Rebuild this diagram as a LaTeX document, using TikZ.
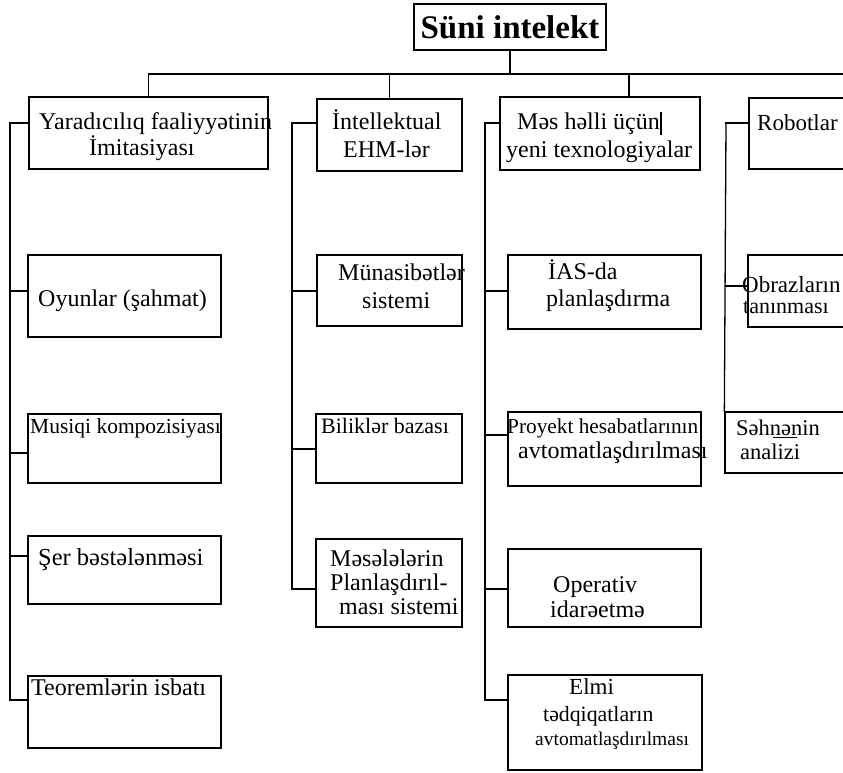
\documentclass[tikz,border=0pt]{standalone}
\usepackage{fontspec}
\setmainfont{Liberation Serif}
\begin{document}
\begin{tikzpicture}[x=1pt, y=-1pt,
    box/.style={draw, line width=1.8pt, inner sep=0pt},
    link/.style={line width=1.5pt, line cap=rect},
    lbl/.style={anchor=base west, inner sep=0pt}]
    \useasboundingbox (0,0) rectangle (843,772);
    \clip (0,0) rectangle (843,772);
    \node[box, minimum width=192, minimum height=46,
        font=\bfseries\fontsize{33}{34}\selectfont] (top) at (510,27) {Süni intelekt};
    \foreach \n/\xa/\ya/\xb/\yb in {yar/29/97/268/169, intel/317/99/462/171,
        mesh/500/97/700/170, rob/749/98/900/169, oyun/28/255/221/337,
        muna/317/255/462/326, ias/508/255/701/329, obr/748/255/900/327,
        mus/28/414/221/483, bil/316/414/462/483, proy/508/412/701/486,
        ser/28/536/221/604, mes/316/539/462/627, oper/508/549/701/627,
        teo/28/676/221/748, elmi/508/675/702/770} {
        \node[box, minimum width=\xb-\xa, minimum height=\yb-\ya] (\n)
            at ({(\xa+\xb)/2},{(\ya+\yb)/2}) {};
    }
    \node[box, line width=1.3pt, minimum width=175, minimum height=61] (seh) at (812.5,442.5) {};
    \foreach [count=\i] \x/\y/\fs/\txt in {39/129/24/Yaradıcılıq faaliyyətinin,
        89/155/24/İmitasiyası, 332/129/24/İntellektual, 343/157/24/EHM-lər,
        517/129/24/Məs həlli üçün, 506/157/24/yeni texnologiyalar,
        757/130/23/Robotlar, 38/306/24/Oyunlar (şahmat),
        338/280/24/Münasibətlər, 362/308/24/sistemi,
        548/279/24/İAS-da, 546/306/24/planlaşdırma,
        742/292/23/Obrazların, 743/313/22/tanınması,
        30/433/21.5/Musiqi kompozisiyası, 321/433/22/Biliklər bazası,
        507/433/21.3/Proyekt hesabatlarının, 518/458/24/avtomatlaşdırılması,
        736/435/22.5/Səhnənin, 740/459/22.5/analizi,
        38/565/24.5/Şer bəstələnməsi,
        330/566/24/Məsələlərin, 330/590/24/Planlaşdırıl-, 339/614/24/ması sistemi,
        553/592/24/Operativ, 550/617/24/idarəetmə,
        31/695/24/Teoremlərin isbatı,
        569/694/23/Elmi, 543/721/21.8/tədqiqatların, 535/745/19.5/avtomatlaşdırılması} {
        \node[lbl, font=\fontsize{\fs}{\fs}\selectfont] (t\i) at (\x,\y) {\txt};
    }
    \coordinate (busR) at (860,74);
    \coordinate (meshIn) at ([xshift=29pt]mesh.north);
    \draw[link] (top.south) -- (top.south |- busR);
    \draw[link] (yar.north) |- (busR);
    \draw[link] (intel.north) -- (intel.north |- busR);
    \draw[link] (meshIn) -- (meshIn |- busR);
    \coordinate (sp1) at (10,123);
    \coordinate (sp2) at (292,123);
    \coordinate (sp3) at (485,123);
    \coordinate (sp4) at (726,123);
    \draw[link] (sp1) -- (sp1 |- 0,700);
    \draw[link] (sp2) -- (sp2 |- 0,589);
    \draw[link] (sp3) -- (sp3 |- 0,700);
    \draw[link, line width=1.3pt] (sp4) -- (seh.north west);
    \foreach \s/\b/\y in {sp1/yar/123, sp1/oyun/291, sp1/mus/453, sp1/ser/556, sp1/teo/700,
        sp2/intel/123, sp2/muna/291, sp2/bil/449, sp2/mes/589,
        sp3/mesh/123, sp3/ias/291, sp3/proy/435, sp3/oper/589, sp3/elmi/700,
        sp4/rob/123, sp4/obr/286} {
        \draw[link] (\s |- 0,\y) -- (\b.west |- 0,\y);
    }
    \draw[line width=1.2pt] (661,112) -- (661,135);
    \draw[line width=0.9pt] (773,437.5) -- (797,437.5);
\end{tikzpicture}
\end{document}
